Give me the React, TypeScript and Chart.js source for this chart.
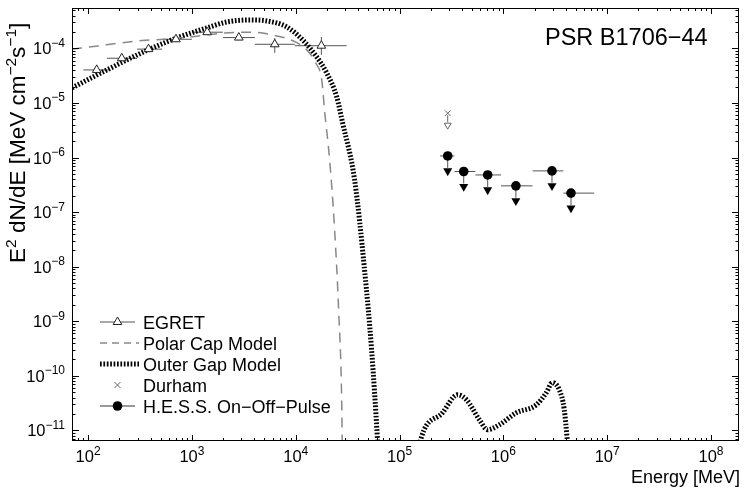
import React, { useEffect, useRef } from 'react';
import { Chart, registerables } from 'chart.js';
Chart.register(...registerables);

// ---------------- DATA ----------------
const egretE = [121, 211, 382, 702, 1403, 2831, 6280, 17660];
const egretFlux = [4.03e-5, 6.6e-5, 9.7e-5, 1.47e-4, 1.98e-4, 1.58e-4, 1.19e-4, 1.12e-4];
const egretELow = [90, 152, 296, 515, 1000, 1990, 4040, 9770];
const egretEHigh = [163, 296, 515, 1000, 1990, 4040, 9770, 30900];
const egretFluxLow = [3.2e-5, 5.9e-5, 8.8e-5, 1.35e-4, 1.85e-4, 1.45e-4, 8.3e-5, 7.6e-5];
const egretFluxHigh = [5.0e-5, 7.4e-5, 1.07e-4, 1.6e-4, 2.12e-4, 1.72e-4, 1.55e-4, 1.62e-4];

const polarE = [70, 125, 194, 330, 550, 915, 2070, 3780, 5880, 9770, 12760, 15600, 17800, 19000, 21200, 23700, 25900, 27700, 28300];
const polarFlux = [9.67e-5, 1.11e-4, 1.24e-4, 1.39e-4, 1.47e-4, 1.6e-4, 1.92e-4, 1.98e-4, 1.77e-4, 1.33e-4, 9.4e-5, 5.4e-5, 2.65e-5, 6.9e-6, 9.1e-7, 4.7e-8, 1.6e-9, 3.6e-11, 1.3e-12];

const outerE = [70, 122, 237, 378, 718, 1393, 2171, 3611, 5260, 8190, 11660, 15900, 19860, 24800, 28300, 36900, 46000, 53800, 61400, 64000,
  100000,
  139000, 161800, 259000, 361000, 441000, 587000, 702000, 915000, 1.33e6, 2.08e6, 2.59e6, 2.96e6, 3.45e6, 3.86e6, 4.13e6, 4.4e6];
const outerFlux = [1.89e-5, 3.27e-5, 6.16e-5, 9.4e-5, 1.56e-4, 2.37e-4, 3.05e-4, 3.32e-4, 3.19e-4, 2.48e-4, 1.43e-4, 7.0e-5, 3.57e-5, 1.3e-5, 4.3e-6, 3.9e-7, 8.8e-9, 3.0e-10, 6.5e-12, 1.5e-12,
  null,
  1.5e-12, 7.3e-12, 2.1e-11, 4.5e-11, 3.65e-11, 1.57e-11, 1.03e-11, 1.27e-11, 2.1e-11, 2.95e-11, 4.9e-11, 7.5e-11, 5.6e-11, 2.4e-11, 6.5e-12, 1.5e-12];

const durhamE = [2.91e5];
const durhamFlux = [6.5e-6];

const hessE = [2.91e5, 4.15e5, 7.06e5, 1.32e6, 2.94e6, 4.48e6];
const hessFlux = [1.07e-6, 5.55e-7, 4.8e-7, 3.03e-7, 5.7e-7, 2.23e-7];
const hessELow = [2.46e5, 3.38e5, 5.38e5, 9.5e5, 1.91e6, 3.78e6];
const hessEHigh = [3.38e5, 5.38e5, 9.5e5, 1.91e6, 3.78e6, 7.5e6];

const xTickExps = [2, 3, 4, 5, 6, 7, 8];
const yTickExps = [-4, -5, -6, -7, -8, -9, -10, -11];

const legendLabels = ['EGRET', 'Polar Cap Model', 'Outer Gap Model', 'Durham', 'H.E.S.S. On\u2212Off\u2212Pulse'];
const titleText = 'PSR B1706\u221244';
const xTitle = 'Energy [MeV]';

const X_MIN = 70;
const X_MAX = 1.86e8;
const Y_MIN = 6.4e-12;
const Y_MAX = 5.5e-4;

// ---------------- HELPERS ----------------
const FONT = '"Liberation Sans", Arial, Helvetica, sans-serif';
type Part = { t: string; sup?: boolean };

function drawRich(ctx: CanvasRenderingContext2D, parts: Part[], x: number, y: number, size: number, supSize: number, rise: number, align: 'left' | 'right' | 'center') {
  let total = 0;
  const widths = parts.map((p) => {
    ctx.font = `${p.sup ? supSize : size}px ${FONT}`;
    const w = ctx.measureText(p.t).width;
    total += w;
    return w;
  });
  let cx = align === 'left' ? x : align === 'right' ? x - total : x - total / 2;
  ctx.textAlign = 'left';
  ctx.textBaseline = 'alphabetic';
  parts.forEach((p, i) => {
    ctx.font = `${p.sup ? supSize : size}px ${FONT}`;
    ctx.fillText(p.t, cx, p.sup ? y - rise : y);
    cx += widths[i];
  });
}

function expStr(n: number) {
  return n < 0 ? '\u2212' + String(-n) : String(n);
}

function triangle(ctx: CanvasRenderingContext2D, x: number, y: number, r: number, down: boolean) {
  const w = r * Math.sqrt(3) / 2;
  ctx.beginPath();
  if (down) {
    ctx.moveTo(x - w, y - r / 2);
    ctx.lineTo(x + w, y - r / 2);
    ctx.lineTo(x, y + r);
  } else {
    ctx.moveTo(x - w, y + r / 2);
    ctx.lineTo(x + w, y + r / 2);
    ctx.lineTo(x, y - r);
  }
  ctx.closePath();
}

const decorPlugin = {
  id: 'decor',
  beforeDatasetsDraw(chart: any) {
    const ctx: CanvasRenderingContext2D = chart.ctx;
    const xs = chart.scales.x;
    const ys = chart.scales.y;
    const a = chart.chartArea;
    ctx.save();
    ctx.beginPath();
    ctx.rect(a.left, a.top, a.right - a.left, a.bottom - a.top);
    ctx.clip();
    // EGRET error bars
    ctx.strokeStyle = '#555';
    ctx.lineWidth = 1;
    egretE.forEach((e, i) => {
      const px = xs.getPixelForValue(e);
      const py = ys.getPixelForValue(egretFlux[i]);
      ctx.beginPath();
      ctx.moveTo(xs.getPixelForValue(egretELow[i]), py);
      ctx.lineTo(xs.getPixelForValue(egretEHigh[i]), py);
      ctx.moveTo(px, ys.getPixelForValue(egretFluxLow[i]));
      ctx.lineTo(px, ys.getPixelForValue(egretFluxHigh[i]));
      ctx.stroke();
    });
    // HESS bars + arrows
    hessE.forEach((e, i) => {
      const px = xs.getPixelForValue(e);
      const py = ys.getPixelForValue(hessFlux[i]);
      ctx.strokeStyle = '#555';
      ctx.beginPath();
      ctx.moveTo(xs.getPixelForValue(hessELow[i]), py);
      ctx.lineTo(xs.getPixelForValue(hessEHigh[i]), py);
      ctx.moveTo(px, py);
      ctx.lineTo(px, py + 12);
      ctx.stroke();
      ctx.fillStyle = '#000';
      triangle(ctx, px, py + 15, 5.2, true);
      ctx.fill();
    });
    // Durham arrow
    durhamE.forEach((e, i) => {
      const px = xs.getPixelForValue(e);
      const py = ys.getPixelForValue(durhamFlux[i]);
      ctx.strokeStyle = '#666';
      ctx.beginPath();
      ctx.moveTo(px, py + 2);
      ctx.lineTo(px, py + 9);
      ctx.stroke();
      triangle(ctx, px, py + 12, 4, true);
      ctx.fillStyle = '#fff';
      ctx.fill();
      ctx.stroke();
    });
    ctx.restore();
  },
  afterDraw(chart: any) {
    const ctx: CanvasRenderingContext2D = chart.ctx;
    const xs = chart.scales.x;
    const ys = chart.scales.y;
    const a = chart.chartArea;
    ctx.save();
    // frame
    ctx.strokeStyle = '#000';
    ctx.lineWidth = 1;
    ctx.strokeRect(Math.round(a.left) + 0.5, Math.round(a.top) + 0.5, Math.round(a.right - a.left) - 1, Math.round(a.bottom - a.top) - 1);
    // x ticks
    ctx.beginPath();
    for (let d = 1; d <= 8; d++) {
      for (let m = 1; m <= 9; m++) {
        const v = m * Math.pow(10, d);
        if (v < X_MIN || v > X_MAX) continue;
        const px = Math.round(xs.getPixelForValue(v)) + 0.5;
        const len = m === 1 ? 6 : 3;
        ctx.moveTo(px, a.bottom);
        ctx.lineTo(px, a.bottom - len);
        ctx.moveTo(px, a.top);
        ctx.lineTo(px, a.top + len);
      }
    }
    // y ticks
    for (let d = -12; d <= -3; d++) {
      for (let m = 1; m <= 9; m++) {
        const v = m * Math.pow(10, d);
        if (v < Y_MIN || v > Y_MAX) continue;
        const py = Math.round(ys.getPixelForValue(v)) + 0.5;
        const len = m === 1 ? 7 : 3.5;
        ctx.moveTo(a.left, py);
        ctx.lineTo(a.left + len, py);
        ctx.moveTo(a.right, py);
        ctx.lineTo(a.right - len, py);
      }
    }
    ctx.stroke();
    // tick labels
    ctx.fillStyle = '#000';
    xTickExps.forEach((n) => {
      const px = xs.getPixelForValue(Math.pow(10, n));
      drawRich(ctx, [{ t: '10' }, { t: expStr(n), sup: true }], px, 462, 16.5, 12, 7.5, 'center');
    });
    yTickExps.forEach((n) => {
      const py = ys.getPixelForValue(Math.pow(10, n));
      drawRich(ctx, [{ t: '10' }, { t: expStr(n), sup: true }], 65, py + 6, 16.5, 12, 7.5, 'right');
    });
    // x title
    drawRich(ctx, [{ t: xTitle }], 740, 483, 18, 12, 0, 'right');
    // y title
    ctx.save();
    ctx.translate(25, 263);
    ctx.rotate(-Math.PI / 2);
    drawRich(ctx, [
      { t: 'E' }, { t: '2', sup: true }, { t: ' dN/dE [MeV cm' }, { t: '\u22122', sup: true }, { t: 's' }, { t: '\u22121', sup: true }, { t: ']' },
    ], 0, 0, 22.5, 15.5, 9, 'left');
    ctx.restore();
    // title
    drawRich(ctx, [{ t: titleText }], 545, 45, 23.5, 12, 0, 'left');

    // legend
    const rows = [322, 343, 364, 385, 406];
    const lx0 = 100, lx1 = 135, mx = 117.5, tx = 143;
    // EGRET
    ctx.strokeStyle = '#555';
    ctx.lineWidth = 1;
    ctx.beginPath();
    ctx.moveTo(lx0, rows[0]);
    ctx.lineTo(lx1, rows[0]);
    ctx.stroke();
    triangle(ctx, mx, rows[0], 5, false);
    ctx.fillStyle = '#fff';
    ctx.fill();
    ctx.strokeStyle = '#222';
    ctx.stroke();
    // Polar cap
    ctx.strokeStyle = '#888';
    ctx.lineWidth = 1.5;
    ctx.setLineDash([7, 5]);
    ctx.beginPath();
    ctx.moveTo(lx0, rows[1]);
    ctx.lineTo(lx1 + 4, rows[1]);
    ctx.stroke();
    // Outer gap
    ctx.strokeStyle = '#000';
    ctx.lineWidth = 5;
    ctx.setLineDash([1.7, 1.7]);
    ctx.beginPath();
    ctx.moveTo(lx0, rows[2]);
    ctx.lineTo(lx1 + 4, rows[2]);
    ctx.stroke();
    ctx.setLineDash([]);
    // Durham
    ctx.strokeStyle = '#666';
    ctx.lineWidth = 1;
    ctx.beginPath();
    ctx.moveTo(mx - 3, rows[3] - 3);
    ctx.lineTo(mx + 3, rows[3] + 3);
    ctx.moveTo(mx + 3, rows[3] - 3);
    ctx.lineTo(mx - 3, rows[3] + 3);
    ctx.stroke();
    // HESS
    ctx.strokeStyle = '#333';
    ctx.beginPath();
    ctx.moveTo(lx0, rows[4]);
    ctx.lineTo(lx1, rows[4]);
    ctx.stroke();
    ctx.fillStyle = '#000';
    ctx.beginPath();
    ctx.arc(mx, rows[4], 4.8, 0, Math.PI * 2);
    ctx.fill();
    ctx.fillStyle = '#000';
    legendLabels.forEach((l, i) => {
      drawRich(ctx, [{ t: l }], tx, rows[i] + 6.5, 18, 12, 0, 'left');
    });
    ctx.restore();
  },
};

export default function App() {
  const ref = useRef<HTMLCanvasElement | null>(null);
  useEffect(() => {
    document.body.style.margin = '0';
    const canvas = ref.current;
    if (!canvas) return;
    const chart = new Chart(canvas, {
      type: 'scatter',
      data: {
        datasets: [
          {
            label: 'EGRET',
            data: egretE.map((e, i) => ({ x: e, y: egretFlux[i] })),
            pointStyle: 'triangle',
            pointRadius: 5,
            pointBackgroundColor: '#fff',
            pointBorderColor: '#222',
            pointBorderWidth: 1,
            showLine: false,
          },
          {
            label: 'H.E.S.S.',
            data: hessE.map((e, i) => ({ x: e, y: hessFlux[i] })),
            pointStyle: 'circle',
            pointRadius: 4.8,
            pointBackgroundColor: '#000',
            pointBorderColor: '#000',
            pointBorderWidth: 0,
            showLine: false,
          },
          {
            label: 'Durham',
            data: durhamE.map((e, i) => ({ x: e, y: durhamFlux[i] })),
            pointStyle: 'crossRot',
            pointRadius: 4,
            pointBorderColor: '#666',
            pointBorderWidth: 1,
            showLine: false,
          },
          {
            label: 'Polar Cap Model',
            data: polarE.map((e, i) => ({ x: e, y: polarFlux[i] })),
            showLine: true,
            borderColor: '#888',
            borderWidth: 1.5,
            borderDash: [10, 7],
            pointRadius: 0,
            cubicInterpolationMode: 'monotone',
          },
          {
            label: 'Outer Gap Model',
            data: outerE.map((e, i) => ({ x: e, y: outerFlux[i] })),
            showLine: true,
            spanGaps: false,
            borderColor: '#000',
            borderWidth: 5,
            borderDash: [1.7, 1.7],
            borderCapStyle: 'butt',
            pointRadius: 0,
            cubicInterpolationMode: 'monotone',
          },
        ],
      },
      options: {
        animation: false,
        responsive: false,
        devicePixelRatio: 1,
        events: [],
        layout: { padding: { left: 72, right: 5, top: 8, bottom: 51 } },
        plugins: { legend: { display: false }, tooltip: { enabled: false } },
        scales: {
          x: { type: 'logarithmic', min: X_MIN, max: X_MAX, display: false },
          y: { type: 'logarithmic', min: Y_MIN, max: Y_MAX, display: false },
        },
      } as any,
      plugins: [decorPlugin],
    });
    return () => chart.destroy();
  }, []);
  return (
    <div style={{ position: 'absolute', left: 0, top: 0, width: 745, height: 492, background: '#fff' }}>
      <canvas ref={ref} width={745} height={492} style={{ width: 745, height: 492 }} />
    </div>
  );
}
